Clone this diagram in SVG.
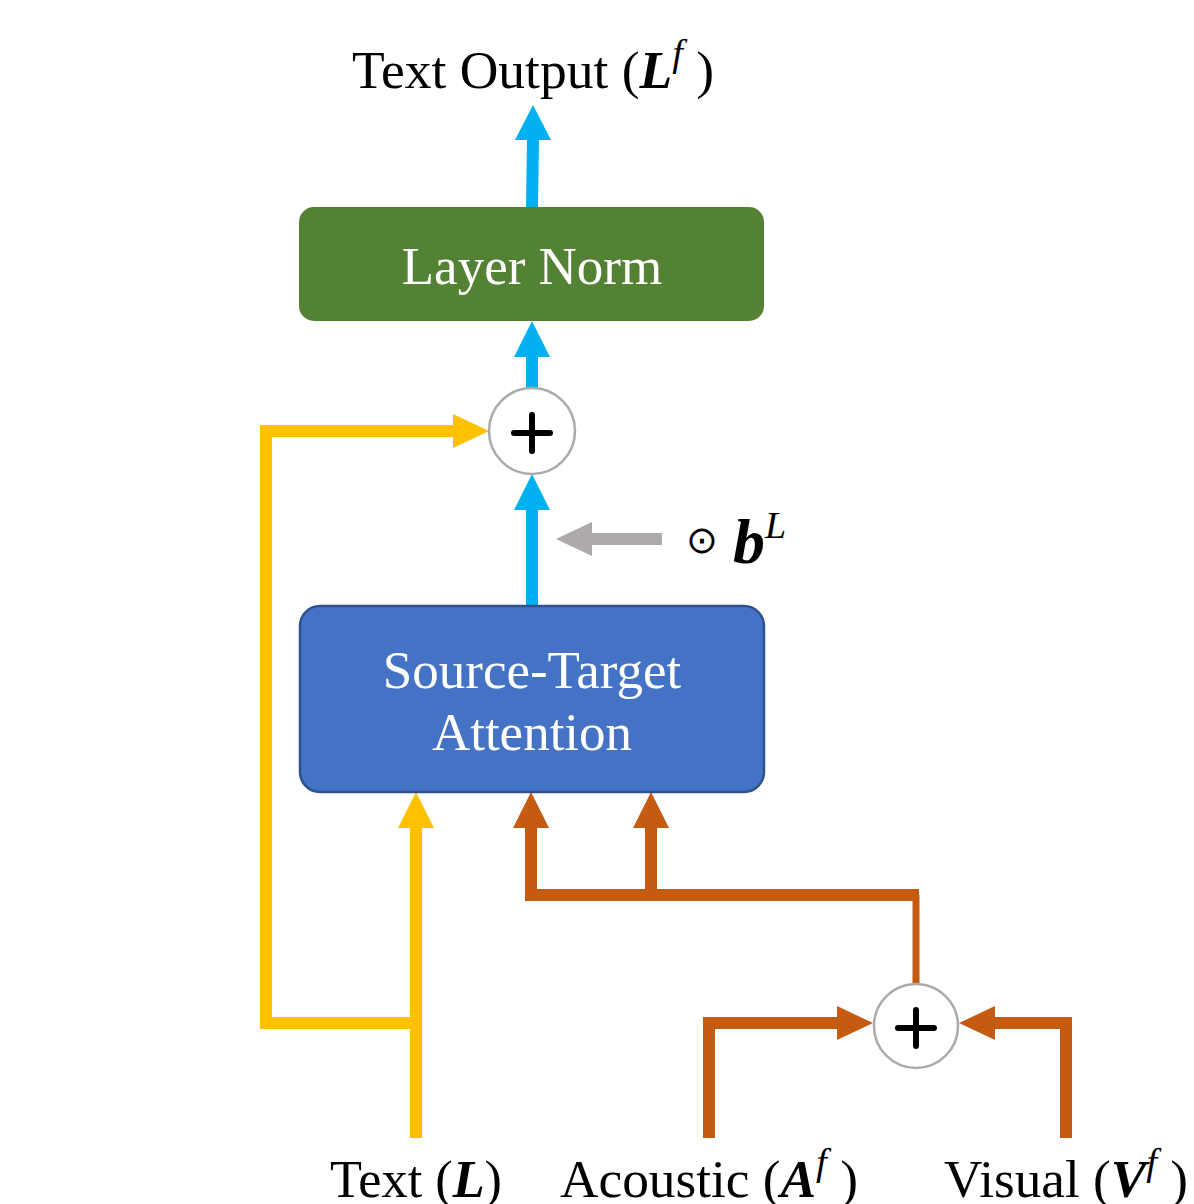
<svg xmlns="http://www.w3.org/2000/svg" width="1194" height="1204" viewBox="0 0 1194 1204">
<style>
.t{font-family:"Liberation Serif","Times New Roman",serif;fill:#000}
.w{font-family:"Liberation Serif","Times New Roman",serif;fill:#fff;text-anchor:middle}
.bi{font-weight:bold;font-style:italic}
.blue{stroke:#00B0F0;stroke-width:12;fill:none}
.yel{stroke:#FFC000;stroke-width:12;fill:none}
.ora{stroke:#C55A11;stroke-width:12;fill:none}
</style>
<rect width="1194" height="1204" fill="#fff"/>
<g id="connectors">
  <line class="blue" x1="532" y1="207" x2="533" y2="138"/>
  <polygon points="533,105 515,140 551,140" fill="#00B0F0"/>
  <line class="blue" x1="532" y1="388" x2="532" y2="355"/>
  <polygon points="532,321 514,357 550,357" fill="#00B0F0"/>
  <line class="blue" x1="532" y1="606" x2="532" y2="508"/>
  <polygon points="532,474 514,510 550,510" fill="#00B0F0"/>
  <line x1="662" y1="539" x2="590" y2="539" stroke="#AEAAAA" stroke-width="12"/>
  <polygon points="556,539 592,522 592,556" fill="#AEAAAA"/>
  <line class="yel" x1="416" y1="1138" x2="416" y2="826"/>
  <polygon points="416,792 398,828 434,828" fill="#FFC000"/>
  <polyline class="yel" points="416,1023 266,1023 266,431 455,431"/>
  <polygon points="489,431 453,414 453,448" fill="#FFC000"/>
  <polyline points="916,984 916,895" fill="none" stroke="#C55A11" stroke-width="7"/>
  <polyline class="ora" points="919,895 531,895 531,826"/>
  <polygon points="531,792 513,828 549,828" fill="#C55A11"/>
  <line class="ora" x1="651" y1="895" x2="651" y2="826"/>
  <polygon points="651,792 633,828 669,828" fill="#C55A11"/>
  <polyline class="ora" points="709,1138 709,1023 838,1023"/>
  <polygon points="873,1023 837,1006 837,1040" fill="#C55A11"/>
  <polyline class="ora" points="1066,1138 1066,1023 993,1023"/>
  <polygon points="959,1023 995,1006 995,1040" fill="#C55A11"/>
</g>
<g id="title">
  <text class="t" x="352" y="88" font-size="53" textLength="362" lengthAdjust="spacingAndGlyphs">Text Output (<tspan class="bi">L</tspan><tspan font-style="italic" font-size="38" dy="-22">f</tspan><tspan dy="22"> )</tspan></text>
</g>
<g id="layernorm">
  <rect x="299" y="207" width="465" height="114" rx="15" fill="#548235"/>
  <text class="w" x="532" y="284" font-size="53">Layer Norm</text>
</g>
<g id="add-top">
  <circle cx="532" cy="431" r="43" fill="#fff" stroke="#AEAAAA" stroke-width="2.5"/>
  <path d="M514,433 H550 M532,415 V451" stroke="#000" stroke-width="6" stroke-linecap="round"/>
</g>
<g id="gate-label">
  <text class="t" x="686" y="553" font-size="38">⊙</text>
  <text class="t" x="733" y="563" font-size="64"><tspan class="bi">b</tspan><tspan font-style="italic" font-size="38" dy="-25">L</tspan></text>
</g>
<g id="attention">
  <rect x="300" y="606" width="464" height="186" rx="20" fill="#4472C4" stroke="#2F528F" stroke-width="2.5"/>
  <text class="w" x="532" y="688" font-size="53">Source-Target</text>
  <text class="w" x="532" y="750" font-size="53">Attention</text>
</g>
<g id="add-bottom">
  <circle cx="916" cy="1026" r="42" fill="#fff" stroke="#AEAAAA" stroke-width="2.5"/>
  <path d="M898,1028 H934 M916,1010 V1046" stroke="#000" stroke-width="6" stroke-linecap="round"/>
</g>
<g id="labels">
  <text class="t" x="330" y="1197" font-size="52" textLength="172" lengthAdjust="spacingAndGlyphs">Text (<tspan class="bi">L</tspan>)</text>
  <text class="t" x="560" y="1197" font-size="52" textLength="298" lengthAdjust="spacingAndGlyphs">Acoustic (<tspan class="bi">A</tspan><tspan font-style="italic" font-size="38" dy="-22">f</tspan><tspan dy="22"> )</tspan></text>
  <text class="t" x="944" y="1197" font-size="52" textLength="244" lengthAdjust="spacingAndGlyphs">Visual (<tspan class="bi">V</tspan><tspan font-style="italic" font-size="38" dy="-22">f</tspan><tspan dy="22"> )</tspan></text>
</g>
</svg>
